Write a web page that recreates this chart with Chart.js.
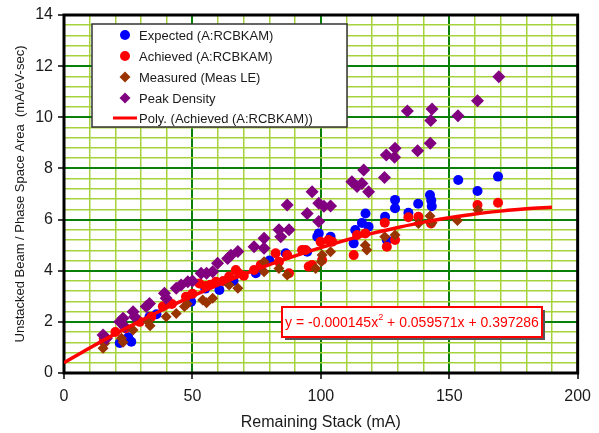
<!DOCTYPE html>
<html>
<head>
<meta charset="utf-8">
<script src="https://cdn.jsdelivr.net/npm/chart.js@4/dist/chart.umd.min.js"></script>
<style>
  html, body { margin: 0; padding: 0; background: #fff; }
  #wrap { width: 599px; height: 433px; }
</style>
</head>
<body>
<div id="wrap"><canvas id="stackChart" width="599" height="433"></canvas></div>
<script>
// values
const expectedX = [15.5, 21.7, 26.2, 25, 33.3, 36, 49.5, 55, 60.5, 66, 74.7, 80, 86.3, 94.7, 98.6, 99.2, 103.8, 112.8, 113.4, 116, 117.4, 118.6, 125, 125.7, 128.9, 128.9, 134.1, 137.9, 142.5, 143.2, 143, 153.5, 161, 169];
const expectedY = [1.25, 1.17, 1.22, 1.4, 2.2, 2.3, 2.79, 3.3, 3.25, 3.6, 3.9, 4.4, 4.68, 4.74, 5.33, 5.46, 5.33, 5.07, 5.59, 5.87, 6.24, 5.72, 6.11, 5.2, 6.77, 6.44, 6.27, 6.62, 6.96, 6.52, 6.75, 7.55, 7.12, 7.68];

const achievedX = [15.5, 20, 24, 29.5, 34, 38.5, 42, 47.5, 50, 52.7, 55, 57, 59.2, 62, 64.3, 66.9, 68, 70, 74, 76.6, 82.4, 83.7, 86.9, 87.6, 92.7, 94.1, 95.3, 96.6, 99.9, 100.5, 103, 104.4, 112.8, 114.1, 117.3, 124.9, 125.7, 128.9, 134.1, 138, 142.9, 161, 169];
const achievedY = [1.35, 1.6, 1.75, 2.0, 2.2, 2.6, 2.7, 2.98, 3.1, 3.5, 3.4, 3.45, 3.57, 3.6, 3.77, 4.03, 3.9, 3.8, 4.03, 4.22, 4.68, 4.35, 4.61, 3.9, 4.81, 4.81, 4.16, 4.22, 5.13, 4.42, 5.2, 5.13, 4.61, 5.4, 5.46, 5.88, 4.94, 5.2, 6.09, 6.11, 5.85, 6.57, 6.66];

const measuredX = [15.2, 15.8, 22.4, 23, 26.9, 32.7, 33.5, 39.8, 43.7, 46.9, 48, 54, 55.5, 57.9, 64.3, 67.7, 77.9, 77.9, 83.7, 86.9, 98, 100.5, 100.2, 103.8, 117.3, 117.9, 124.9, 128.9, 138, 142.5, 143.3, 153.2, 161.2];
const measuredY = [0.97, 1.15, 1.36, 1.2, 1.68, 2.0, 1.85, 2.2, 2.33, 2.6, 2.7, 2.85, 2.75, 2.92, 3.44, 3.31, 4.35, 3.96, 4.09, 3.83, 4.09, 4.61, 4.35, 4.74, 5.0, 4.81, 5.33, 5.4, 5.85, 6.14, 5.88, 5.96, 6.37];

const peakX = [15.2, 16.5, 21.7, 23, 23.6, 26.9, 27.5, 32, 33.3, 39.1, 39.8, 43.7, 45.6, 48.2, 50, 53.4, 55.5, 57.9, 59.8, 63.7, 65, 67.7, 74, 77.9, 77.9, 83.7, 84.4, 87.6, 86.9, 94.7, 96.6, 99.2, 101.2, 103.8, 99.2, 112.1, 114.1, 116, 116.7, 118.6, 124.8, 125.5, 128.9, 128.7, 133.7, 137.7, 142.6, 142.8, 143.3, 153.4, 161, 169.3];
const peakY = [1.49, 1.35, 2.0, 2.14, 1.81, 2.4, 2.2, 2.6, 2.72, 3.12, 2.92, 3.31, 3.44, 3.57, 3.6, 3.9, 3.9, 3.96, 4.29, 4.48, 4.6, 4.75, 4.94, 5.27, 4.88, 5.6, 5.33, 5.6, 6.57, 6.24, 7.09, 6.64, 6.52, 6.53, 5.92, 7.48, 7.29, 7.41, 7.94, 7.09, 7.65, 8.53, 8.79, 8.44, 10.25, 8.69, 8.98, 9.87, 10.32, 10.06, 10.65, 11.59];

// trendline, read at every 10 mA
const trendX = [0, 10, 20, 30, 40, 50, 60, 70, 80, 90, 100, 110, 120, 130, 140, 150, 160, 170, 180, 190];
const trendY = [0.40, 0.98, 1.53, 2.05, 2.55, 3.01, 3.45, 3.86, 4.24, 4.58, 4.90, 5.20, 5.46, 5.69, 5.90, 6.07, 6.22, 6.33, 6.42, 6.48];

const equationText = ["y = -0.000145x", "2", " + 0.059571x + 0.397286"];
const xTitle = "Remaining Stack (mA)";
const yTitle = "Unstacked Beam / Phase Space Area  (mA/eV-sec)";

const pts = (xs, ys) => xs.map((x, i) => ({ x: x, y: ys[i] }));

const FONT = "'Liberation Sans', Arial, sans-serif";
const MAJOR = "#0a800a";
const MINOR = "#a6d23c";

const isMajorY = v => Math.abs(v / 2 - Math.round(v / 2)) < 1e-6;
const isMajorX = v => Math.abs(v / 50 - Math.round(v / 50)) < 1e-6;

// black frame around the plot area
const framePlugin = {
  id: "frame",
  beforeDatasetsDraw(chart) {
    const { ctx, chartArea: a } = chart;
    ctx.save();
    ctx.strokeStyle = "#000";
    ctx.lineWidth = 3;
    ctx.strokeRect(a.left, a.top, a.right - a.left, a.bottom - a.top);
    ctx.restore();
  }
};

// legend box inside the plot, and the equation label
const boxesPlugin = {
  id: "boxes",
  afterDraw(chart) {
    const ctx = chart.ctx;
    ctx.save();

    // legend
    ctx.fillStyle = "#fff";
    ctx.fillRect(92, 24, 255, 103);
    ctx.strokeStyle = "#333";
    ctx.lineWidth = 1.5;
    ctx.strokeRect(92, 24, 255, 103);

    const rows = [35, 56, 77, 98, 118];
    ctx.font = "13px " + FONT;
    ctx.textBaseline = "middle";
    chart.data.datasets.forEach((ds, i) => {
      const y = rows[i];
      if (ds.pointRadius === 0) {
        ctx.strokeStyle = ds.borderColor;
        ctx.lineWidth = 3;
        ctx.beginPath();
        ctx.moveTo(113, y);
        ctx.lineTo(137, y);
        ctx.stroke();
      } else {
        ctx.fillStyle = ds.backgroundColor;
        ctx.beginPath();
        if (ds.pointStyle === "rectRot") {
          const r = 5.5;
          ctx.moveTo(125, y - r);
          ctx.lineTo(125 + r, y);
          ctx.lineTo(125, y + r);
          ctx.lineTo(125 - r, y);
          ctx.closePath();
        } else {
          ctx.arc(125, y, 5, 0, Math.PI * 2);
        }
        ctx.fill();
      }
      ctx.fillStyle = "#1a1a1a";
      ctx.fillText(ds.label, 139, y + 1);
    });

    // equation label
    const bx = 282, by = 307, bw = 260, bh = 30;
    ctx.fillStyle = "#555";
    ctx.fillRect(bx + 3, by + 3, bw, bh);
    ctx.fillStyle = "#fff";
    ctx.fillRect(bx, by, bw, bh);
    ctx.strokeStyle = "#ff0000";
    ctx.lineWidth = 2;
    ctx.strokeRect(bx, by, bw, bh);

    let size = 14;
    const measure = s => {
      ctx.font = s + "px " + FONT;
      let w = ctx.measureText(equationText[0]).width + ctx.measureText(equationText[2]).width;
      ctx.font = (s * 0.65) + "px " + FONT;
      return w + ctx.measureText(equationText[1]).width;
    };
    while (measure(size) < 252 && size < 18) size += 0.25;
    let tx = bx + (bw - measure(size)) / 2;
    const ty = by + bh / 2 + 1;
    ctx.fillStyle = "#ff0000";
    ctx.font = size + "px " + FONT;
    ctx.fillText(equationText[0], tx, ty);
    tx += ctx.measureText(equationText[0]).width;
    ctx.font = (size * 0.65) + "px " + FONT;
    ctx.fillText(equationText[1], tx, ty - size * 0.4);
    tx += ctx.measureText(equationText[1]).width;
    ctx.font = size + "px " + FONT;
    ctx.fillText(equationText[2], tx, ty);

    ctx.restore();
  }
};

new Chart(document.getElementById("stackChart"), {
  type: "scatter",
  data: {
    datasets: [
      {
        label: "Expected (A:RCBKAM)",
        data: pts(expectedX, expectedY),
        backgroundColor: "#0000ff",
        borderColor: "#0000ff",
        pointStyle: "circle",
        pointRadius: 5,
        borderWidth: 0,
        order: 4
      },
      {
        label: "Achieved (A:RCBKAM)",
        data: pts(achievedX, achievedY),
        backgroundColor: "#ff0000",
        borderColor: "#ff0000",
        pointStyle: "circle",
        pointRadius: 5,
        borderWidth: 0,
        order: 3
      },
      {
        label: "Measured (Meas LE)",
        data: pts(measuredX, measuredY),
        backgroundColor: "#993300",
        borderColor: "#993300",
        pointStyle: "rectRot",
        pointRadius: 5.5,
        borderWidth: 0,
        order: 2
      },
      {
        label: "Peak Density",
        data: pts(peakX, peakY),
        backgroundColor: "#800080",
        borderColor: "#800080",
        pointStyle: "rectRot",
        pointRadius: 6.5,
        borderWidth: 0,
        order: 1
      },
      {
        label: "Poly. (Achieved (A:RCBKAM))",
        data: pts(trendX, trendY),
        showLine: true,
        borderColor: "#ff0000",
        backgroundColor: "#ff0000",
        borderWidth: 3.5,
        pointRadius: 0,
        cubicInterpolationMode: "monotone",
        order: 0
      }
    ]
  },
  options: {
    responsive: false,
    animation: false,
    layout: { padding: { left: 0, right: 19, top: 15, bottom: 0 } },
    plugins: {
      legend: { display: false },
      tooltip: { enabled: false }
    },
    scales: {
      x: {
        type: "linear",
        min: 0,
        max: 200,
        afterFit(scale) { scale.height = 60; },
        border: { display: false },
        grid: {
          color: c => isMajorX(c.tick.value) ? MAJOR : MINOR,
          lineWidth: c => isMajorX(c.tick.value) ? 2 : 1.5,
          tickColor: c => isMajorX(c.tick.value) ? "#000" : "rgba(0,0,0,0)",
          tickWidth: 1.5,
          tickLength: 6
        },
        ticks: {
          stepSize: 10,
          autoSkip: false,
          maxRotation: 0,
          padding: 8,
          color: "#1a1a1a",
          font: { family: FONT, size: 16 },
          callback: v => isMajorX(v) ? String(Math.round(v)) : ""
        },
        title: {
          display: true,
          text: xTitle,
          color: "#1a1a1a",
          font: { family: FONT, size: 16 },
          padding: { top: 0, bottom: 1 }
        }
      },
      y: {
        type: "linear",
        min: 0,
        max: 14,
        afterFit(scale) { scale.width = 64; },
        border: { display: false },
        grid: {
          color: c => isMajorY(c.tick.value) ? MAJOR : MINOR,
          lineWidth: c => isMajorY(c.tick.value) ? 2 : 1.5,
          tickColor: c => isMajorY(c.tick.value) ? "#000" : "rgba(0,0,0,0)",
          tickWidth: 1.5,
          tickLength: 6
        },
        ticks: {
          stepSize: 0.4,
          autoSkip: false,
          padding: 5,
          color: "#1a1a1a",
          font: { family: FONT, size: 16 },
          callback: v => isMajorY(v) ? String(Math.round(v)) : ""
        },
        title: {
          display: true,
          text: yTitle,
          color: "#1a1a1a",
          font: { family: FONT, size: 13 },
          padding: { top: 13, bottom: 0 }
        }
      }
    }
  },
  plugins: [framePlugin, boxesPlugin]
});
</script>
</body>
</html>
